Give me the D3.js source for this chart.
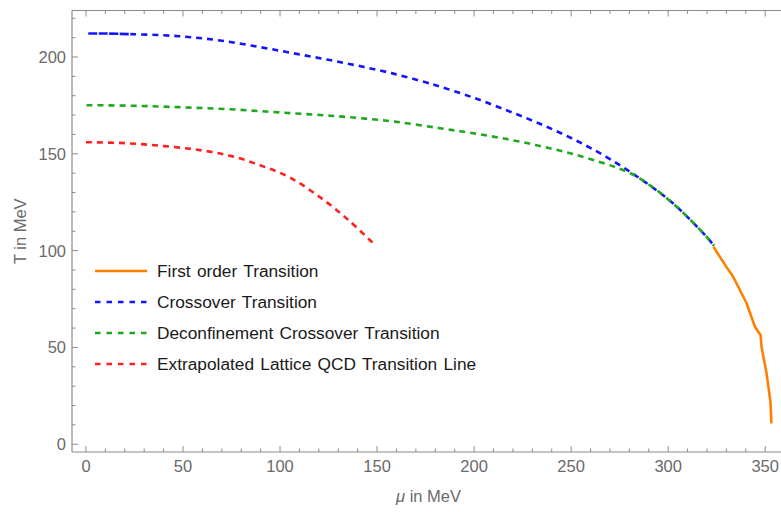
<!DOCTYPE html>
<html>
<head>
<meta charset="utf-8">
<script src="https://cdn.jsdelivr.net/npm/d3@7"></script>
<style>
  html, body { margin: 0; padding: 0; background: #fff; }
  svg { display: block; font-family: "Liberation Sans", Arial, sans-serif; }
</style>
</head>
<body>
<svg id="chart" width="781" height="512"></svg>
<script>
// ---- data (μ in MeV, T in MeV) ----
const firstOrderMu = [323.3, 330, 333.5, 340.4, 344.7, 347.6, 348.1, 350.7, 352.7, 353.2];
const firstOrderT  = [102,   91.6, 86.5, 72.8,  60.7,  56.4,  50.4,  36.6,  22,    10.8];

const crossoverMu = [1.2, 10, 22.7, 40, 55.3, 72, 89.7, 107, 124, 141, 158.4, 175, 182.4, 199.4, 216.7, 233.9, 251.1, 268.3, 285.5, 302.6, 319.8, 323.6];
const crossoverT  = [212.1, 212.1, 211.8, 211.2, 210.1, 208.1, 205.1, 201.9, 198.7, 195.3, 191.4, 186.9, 184.7, 179.1, 172.5, 165.5, 157.6, 148.3, 137.2, 124.3, 107.1, 102.5];

const deconfMu = [0.3, 20, 38, 55, 72.5, 90, 106.9, 124, 141.4, 160, 182.4, 199.6, 216.8, 234, 251.2, 268.4, 277, 285.5, 302.6, 319.8, 323.6];
const deconfT  = [175.1, 174.9, 174.4, 173.8, 173.1, 172, 170.9, 169.8, 168.4, 166.5, 163.2, 160.6, 157.6, 154, 149.8, 144.6, 141.5, 137.2, 124.3, 107.1, 102.5];

const latticeMu = [0, 20, 40, 58.7, 75, 90, 105, 120, 135, 148.9];
const latticeT  = [156, 155.5, 154, 151.9, 148.8, 144, 137.8, 128, 116, 102.9];

const seriesNames = ["First order Transition", "Crossover Transition", "Deconfinement Crossover Transition", "Extrapolated Lattice QCD Transition Line"];
const seriesColors = ["#ff8000", "#1414ff", "#1fa81f", "#ff2020"];

const xTicks = [0, 50, 100, 150, 200, 250, 300, 350];
const yTicks = [0, 50, 100, 150, 200];
const xLabel = "in MeV";
const yLabel = "T in MeV";

// ---- layout ----
const svg = d3.select("#chart");
const pLeft = 72, pRight = 785, pTop = 10.5, pBottom = 452;
const x = d3.scaleLinear().domain([-7.2, 360.2]).range([pLeft, pRight]);
const y = d3.scaleLinear().domain([-4, 224]).range([pBottom, pTop]);

const axisColor = "#8c8c8c";
const labelColor = "#6a6a6a";

// frame
const frame = svg.append("g");
frame.append("line").attr("x1", pLeft).attr("x2", pRight).attr("y1", pBottom).attr("y2", pBottom).attr("stroke", axisColor).attr("stroke-width", 1.2);
frame.append("line").attr("x1", pLeft).attr("x2", pRight).attr("y1", pTop).attr("y2", pTop).attr("stroke", axisColor).attr("stroke-width", 1.2);
frame.append("line").attr("x1", pLeft).attr("x2", pLeft).attr("y1", pTop).attr("y2", pBottom).attr("stroke", axisColor).attr("stroke-width", 1.2);

// ticks
const xMinor = d3.range(0, 361, 10).filter(v => !xTicks.includes(v));
const yMinor = d3.range(0, 221, 10).filter(v => !yTicks.includes(v));
function xt(vals, len) {
  vals.forEach(v => {
    frame.append("line").attr("x1", x(v)).attr("x2", x(v)).attr("y1", pBottom).attr("y2", pBottom - len).attr("stroke", axisColor);
    frame.append("line").attr("x1", x(v)).attr("x2", x(v)).attr("y1", pTop).attr("y2", pTop + len).attr("stroke", axisColor);
  });
}
function yt(vals, len) {
  vals.forEach(v => {
    frame.append("line").attr("x1", pLeft).attr("x2", pLeft + len).attr("y1", y(v)).attr("y2", y(v)).attr("stroke", axisColor);
  });
}
xt(xTicks, 6); xt(xMinor, 3.5);
yt(yTicks, 6); yt(yMinor, 3.5);

// tick labels
xTicks.forEach(v => {
  svg.append("text").attr("x", x(v)).attr("y", 472).attr("text-anchor", "middle")
    .attr("font-size", 16.5).attr("fill", labelColor).text(v);
});
yTicks.forEach(v => {
  svg.append("text").attr("x", 66).attr("y", y(v) + 6).attr("text-anchor", "end")
    .attr("font-size", 16.5).attr("fill", labelColor).text(v);
});

// axis labels
const xl = svg.append("text").attr("x", (pLeft + pRight) / 2).attr("y", 502).attr("text-anchor", "middle")
  .attr("font-size", 16.5).attr("fill", labelColor);
xl.append("tspan").attr("font-style", "italic").text("μ");
xl.append("tspan").text(" " + xLabel);
svg.append("text").attr("transform", `translate(26,${(pTop + pBottom) / 2}) rotate(-90)`)
  .attr("text-anchor", "middle").attr("font-size", 16.5).attr("fill", labelColor).text(yLabel);

// curves
const smooth = d3.line().x(d => x(d[0])).y(d => y(d[1])).curve(d3.curveCatmullRom.alpha(0.5));
const straight = d3.line().x(d => x(d[0])).y(d => y(d[1]));
const zip = (a, b) => a.map((v, i) => [v, b[i]]);
// blue starts with a denser dash run, as in the reference
const blueDash = [].concat(...Array(4).fill([9, 1.5]), ...Array(80).fill([6, 5])).join(",");
const curves = [
  { data: zip(firstOrderMu, firstOrderT), color: seriesColors[0], dash: null, gen: straight },
  { data: zip(crossoverMu, crossoverT), color: seriesColors[1], dash: blueDash, gen: smooth },
  { data: zip(deconfMu, deconfT), color: seriesColors[2], dash: "6,5", gen: smooth },
  { data: zip(latticeMu, latticeT), color: seriesColors[3], dash: "6,5", gen: smooth }
];
curves.forEach(c => {
  svg.append("path").attr("d", c.gen(c.data)).attr("fill", "none")
    .attr("stroke", c.color).attr("stroke-width", 2.6)
    .attr("stroke-linejoin", "round")
    .attr("stroke-dasharray", c.dash);
});

// legend
const legY = [271, 302, 333, 364];
seriesNames.forEach((name, i) => {
  svg.append("line").attr("x1", 95).attr("x2", 147).attr("y1", legY[i]).attr("y2", legY[i])
    .attr("stroke", seriesColors[i]).attr("stroke-width", 2.6)
    .attr("stroke-dasharray", i === 0 ? null : "5.5,6");
  svg.append("text").attr("x", 157).attr("y", legY[i] + 6).attr("font-size", 17.3)
    .attr("word-spacing", 1.5)
    .attr("fill", "#1a1a1a").text(name);
});
</script>
</body>
</html>
